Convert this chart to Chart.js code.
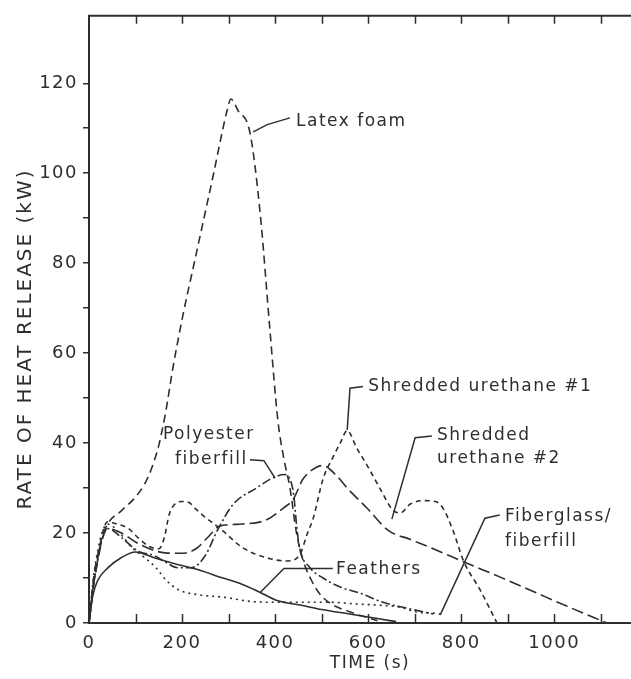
<!DOCTYPE html>
<html>
<head>
<meta charset="UTF-8" />
<title>Rate of heat release</title>
<script src="https://cdn.jsdelivr.net/npm/chart.js"></script>
<style>
    body { margin: 0; background: #fff; }
    #heatChart { display: block; }
</style>
</head>
<body>
<canvas id="heatChart" width="631" height="679"></canvas>
<script type="text/javascript">
    // values (time in s, rate in kW)
    const latexTime = [0, 10, 25, 40, 70, 100, 120, 135, 150, 165, 180, 202, 224, 245, 268, 287, 297, 305, 320, 346, 368, 389, 406, 418, 432, 446, 460, 478, 495, 518, 560, 620];
    const latexKw = [0, 10, 18, 22, 25, 28, 31, 34.5, 39.5, 47, 56.5, 68.5, 79, 89, 100, 109.5, 114, 116.5, 114, 109, 91, 65, 45, 37, 30, 20, 14, 9.5, 6.6, 4.4, 2.5, 0.5];

    const polyTime = [0, 12, 40, 70, 105, 140, 165, 190, 220, 250, 275, 310, 360, 390, 420, 432, 440, 446, 452, 475, 503, 540, 583, 632, 683, 740];
    const polyKw = [0, 10, 21, 19, 16, 15, 13.5, 12.3, 12.3, 15, 20.4, 26.4, 30, 32, 33, 32, 28.5, 22, 17, 12.3, 10, 8, 6.6, 4.6, 3.3, 2];

    const shred1Time = [0, 12, 40, 60, 85, 105, 130, 150, 162, 172, 185, 200, 215, 228, 250, 282, 331, 389, 426, 454, 469, 482, 503, 525, 540, 555, 575, 598, 625, 654, 670, 690, 720, 745, 761, 783, 805, 841, 877];
    const shred1Kw = [0, 10, 22.5, 22, 21, 19, 17, 16.5, 19, 24, 26.5, 27, 26.8, 25.5, 23.5, 21, 16.7, 14.3, 13.8, 15.4, 19.8, 23.3, 32, 37, 40, 42.8, 39, 35, 30, 25, 24.5, 26.4, 27.2, 27, 25.5, 20.4, 13.8, 7.3, 0];

    const shred2Time = [0, 12, 40, 70, 100, 130, 163, 200, 230, 255, 280, 330, 383, 417, 439, 460, 490, 503, 530, 555, 598, 643, 690, 740, 805, 884, 955, 1028, 1113];
    const shred2Kw = [0, 10, 21, 20, 18, 16.5, 15.6, 15.5, 16.5, 19, 21.5, 22, 23, 25.5, 27.5, 32, 34.7, 35, 33, 30, 25.5, 20.6, 18.6, 16.5, 13.6, 10.2, 7, 3.7, 0];

    const fiberTime = [0, 12, 40, 70, 90, 120, 144, 166, 194, 234, 292, 346, 400, 460, 518, 580, 632, 669, 705, 740, 755];
    const fiberKw = [0, 12, 22, 19.5, 17, 14.5, 12.3, 9.5, 7.3, 6.3, 5.7, 4.8, 4.6, 4.6, 4.6, 4.2, 3.9, 3.5, 2.4, 2.2, 2];

    const featherTime = [0, 8, 19, 41, 69, 100, 140, 190, 230, 288, 325, 368, 404, 454, 500, 560, 620, 660];
    const featherKw = [0, 6, 9.5, 12.3, 14.5, 15.8, 14.5, 13, 12, 10, 8.8, 6.8, 5, 4, 3, 2, 1, 0.3];

    const xTickLabels = [0, 200, 400, 600, 800, 1000];
    const xTickMarks = [0, 100, 200, 300, 400, 500, 600, 700, 800, 900, 1000, 1100];
    const yTickLabels = [0, 20, 40, 60, 80, 100, 120];
    const yTickMarks = [0, 10, 20, 30, 40, 50, 60, 70, 80, 90, 100, 110, 120];

    const xTitle = 'TIME (s)';
    const yTitle = 'RATE OF HEAT RELEASE (kW)';

    const ink = '#2e2e2e';
    const family = '"DejaVu Sans", sans-serif';

    // callouts: text lines anchored at (time, kW), leader lines in data units
    const notes = [
        { lines: ['Latex foam'], at: [445, 111.4], leader: [[432, 112.3], [383, 110.8], [353, 109.2]] },
        { lines: ['Polyester', 'fiberfill'], at: [[159, 41.8], [185, 36.3]], leader: [[346, 36.3], [376, 36.1], [400, 32.2]] },
        { lines: ['Shredded urethane #1'], at: [600, 52.6], leader: [[589, 52.6], [561, 52.2], [555, 42.9]] },
        { lines: ['Shredded', 'urethane #2'], at: [[748, 41.6], [748, 36.6]], leader: [[737, 41.6], [701, 41.2], [651, 23.1]] },
        { lines: ['Fiberglass/', 'fiberfill'], at: [[894, 23.6], [894, 18.1]], leader: [[883, 24], [851, 23.3], [755, 1.8]] },
        { lines: ['Feathers'], at: [531, 11.9], leader: [[524, 12.1], [419, 12.1], [368, 6.8]] }
    ];

    function points(ts, vs) {
        return ts.map((t, i) => ({ x: t, y: vs[i] }));
    }

    function curve(label, ts, vs, dash) {
        return {
            label: label,
            data: points(ts, vs),
            borderColor: ink,
            borderWidth: 1.6,
            borderDash: dash,
            pointRadius: 0,
            cubicInterpolationMode: 'monotone',
            fill: false
        };
    }

    const framePlugin = {
        id: 'frame',
        beforeDraw(chart) {
            chart.ctx.letterSpacing = '1.5px';
        },
        afterDraw(chart) {
            const ctx = chart.ctx;
            const a = chart.chartArea;
            const x = chart.scales.x;
            const y = chart.scales.y;
            ctx.save();
            ctx.strokeStyle = ink;
            ctx.lineWidth = 2;
            ctx.beginPath();
            ctx.moveTo(a.left - 1, a.top);
            ctx.lineTo(a.right, a.top);
            ctx.stroke();

            ctx.lineWidth = 1.5;
            ctx.beginPath();
            xTickMarks.forEach(v => {
                const px = Math.round(x.getPixelForValue(v)) + 0.5;
                if (v > 0) {
                    ctx.moveTo(px, a.bottom);
                    ctx.lineTo(px, a.bottom - 9);
                    ctx.moveTo(px, a.top);
                    ctx.lineTo(px, a.top + 8);
                }
            });
            ctx.stroke();

            // axis titles
            ctx.fillStyle = ink;
            ctx.textAlign = 'center';
            ctx.textBaseline = 'middle';
            ctx.font = '17px ' + family;
            ctx.fillText(xTitle, 370, 664);
            ctx.save();
            ctx.translate(26, 339);
            ctx.rotate(-Math.PI / 2);
            ctx.letterSpacing = '2px';
            ctx.font = '20px ' + family;
            ctx.fillText(yTitle, 0, 0);
            ctx.restore();

            // callouts
            ctx.font = '17px ' + family;
            ctx.textAlign = 'left';
            notes.forEach(n => {
                const anchors = n.lines.length > 1 ? n.at : [n.at];
                n.lines.forEach((txt, i) => {
                    ctx.fillText(txt, x.getPixelForValue(anchors[i][0]), y.getPixelForValue(anchors[i][1]));
                });
                ctx.beginPath();
                n.leader.forEach((p, i) => {
                    const px = x.getPixelForValue(p[0]);
                    const py = y.getPixelForValue(p[1]);
                    if (i === 0) ctx.moveTo(px, py); else ctx.lineTo(px, py);
                });
                ctx.stroke();
            });
            ctx.restore();
        }
    };

    const ctx = document.getElementById('heatChart').getContext('2d');
    new Chart(ctx, {
        type: 'line',
        data: {
            datasets: [
                curve('Latex foam', latexTime, latexKw, [8, 5]),
                curve('Polyester fiberfill', polyTime, polyKw, [9, 3, 2, 3]),
                curve('Shredded urethane #1', shred1Time, shred1Kw, [5, 4]),
                curve('Shredded urethane #2', shred2Time, shred2Kw, [12, 5]),
                curve('Fiberglass/fiberfill', fiberTime, fiberKw, [2, 4]),
                curve('Feathers', featherTime, featherKw, [])
            ]
        },
        options: {
            responsive: false,
            animation: false,
            devicePixelRatio: 1,
            layout: { padding: { top: 10, right: 0, left: 0, bottom: 0 } },
            plugins: {
                legend: { display: false },
                tooltip: { enabled: false }
            },
            scales: {
                x: {
                    type: 'linear',
                    min: 0,
                    max: 1165,
                    afterBuildTicks: axis => { axis.ticks = xTickLabels.map(v => ({ value: v })); },
                    ticks: {
                        callback: v => String(v),
                        font: { family: family, size: 18 },
                        color: ink,
                        padding: 2,
                        maxRotation: 0,
                        autoSkip: false
                    },
                    grid: { display: false },
                    border: { display: true, color: ink, width: 2 },
                    afterFit: s => { s.height = 56; }
                },
                y: {
                    min: 0,
                    max: 135,
                    afterBuildTicks: axis => { axis.ticks = yTickMarks.map(v => ({ value: v })); },
                    ticks: {
                        callback: v => yTickLabels.includes(v) ? String(v) : '',
                        font: { family: family, size: 18 },
                        color: ink,
                        padding: 5,
                        autoSkip: false
                    },
                    grid: { drawOnChartArea: false, drawTicks: true, tickLength: 6, color: ink, lineWidth: 1.5 },
                    border: { display: true, color: ink, width: 2 },
                    afterFit: s => { s.width = 89; }
                }
            }
        },
        plugins: [framePlugin]
    });
</script>
</body>
</html>
